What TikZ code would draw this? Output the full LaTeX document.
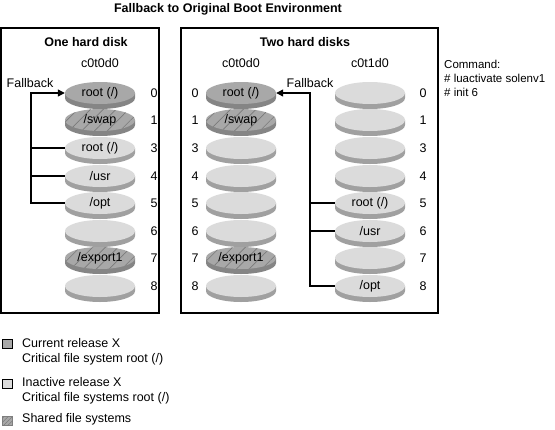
\documentclass[tikz,border=0pt]{standalone}
\usepackage{fontspec}
\setmainfont{Liberation Sans}
\usetikzlibrary{shapes.geometric,patterns.meta,arrows.meta}
\definecolor{darktop}{HTML}{A8A8A8}
\definecolor{darkrim}{HTML}{858585}
\definecolor{lighttop}{HTML}{DBDBDB}
\definecolor{lightrim}{HTML}{A0A0A0}
\definecolor{hatchcol}{HTML}{7A7A7A}
\tikzset{
  disk/.style={ellipse, minimum width=70pt, minimum height=22pt, inner sep=0pt, font=\fontsize{12.5}{14}\selectfont},
  cur/.style={disk, fill=darktop},
  ina/.style={disk, fill=lighttop},
  shr/.style={disk, fill=darktop, postaction={pattern={Lines[angle=45,distance=9pt,line width=0.6pt]}, pattern color=hatchcol}},
  lbl/.style={font=\fontsize{12.5}{14}\selectfont, inner sep=0pt},
  cmdlbl/.style={font=\fontsize{11.5}{13}\selectfont, inner sep=0pt, anchor=west},
  hdr/.style={font=\bfseries\fontsize{12.5}{14}\selectfont, inner sep=0pt},
  boxframe/.style={draw=black, line width=1.3pt},
  fb/.style={draw=black, line width=1.2pt},
  fbarrow/.style={fb, -{Triangle[length=7pt,width=7pt]}},
  legsq/.style={draw=black, line width=0.6pt, minimum width=10pt, minimum height=9pt, inner sep=0pt},
}
\newcommand\mydisk[6]{%
  \fill[#6] (#2-35,#3) -- (#2-35,#3+5) arc[start angle=180,end angle=0,x radius=35,y radius=11] -- (#2+35,#3) -- cycle;
  \node[#4] (#1) at (#2,#3) {#5};
}
\begin{document}
\begin{tikzpicture}[x=1pt,y=-1pt]
\useasboundingbox (0,0) rectangle (555,429);
% title
\node[hdr] (title) at (228,9) {Fallback to Original Boot Environment};
% boxes
\node[boxframe, minimum width=158pt, minimum height=285pt, inner sep=0pt] (boxL) at (80,170.5) {};
\node[boxframe, minimum width=257pt, minimum height=285pt, inner sep=0pt] (boxR) at (309.5,170.5) {};
\node[hdr] (hL) at (86,42) {One hard disk};
\node[hdr] (hR) at (305,42) {Two hard disks};
\node[lbl] (cL) at (100,63) {c0t0d0};
\node[lbl] (cR1) at (241,63) {c0t0d0};
\node[lbl] (cR2) at (370,63) {c0t1d0};
% left box disks
\mydisk{L0}{100}{93}{cur}{root (/)}{darkrim}
\mydisk{L1}{100}{120}{shr}{/swap}{darkrim}
\mydisk{L3}{100}{148}{ina}{root (/)}{lightrim}
\mydisk{L4}{100}{176}{ina}{/usr}{lightrim}
\mydisk{L5}{100}{203}{ina}{/opt}{lightrim}
\mydisk{L6}{100}{231}{ina}{}{lightrim}
\mydisk{L7}{100}{258}{shr}{/export1}{darkrim}
\mydisk{L8}{100}{286}{ina}{}{lightrim}
\foreach \n/\y in {0/93,1/120,3/148,4/176,5/203,6/231,7/258,8/286}{
  \node[lbl] (nL\n) at (154,\y) {\n};
}
% right box, disk c0t0d0
\mydisk{A0}{241}{93}{cur}{root (/)}{darkrim}
\mydisk{A1}{241}{120}{shr}{/swap}{darkrim}
\mydisk{A3}{241}{148}{ina}{}{lightrim}
\mydisk{A4}{241}{176}{ina}{}{lightrim}
\mydisk{A5}{241}{203}{ina}{}{lightrim}
\mydisk{A6}{241}{231}{ina}{}{lightrim}
\mydisk{A7}{241}{258}{shr}{/export1}{darkrim}
\mydisk{A8}{241}{286}{ina}{}{lightrim}
% right box, disk c0t1d0
\mydisk{B0}{370}{93}{ina}{}{lightrim}
\mydisk{B1}{370}{120}{ina}{}{lightrim}
\mydisk{B3}{370}{148}{ina}{}{lightrim}
\mydisk{B4}{370}{176}{ina}{}{lightrim}
\mydisk{B5}{370}{203}{ina}{root (/)}{lightrim}
\mydisk{B6}{370}{231}{ina}{/usr}{lightrim}
\mydisk{B7}{370}{258}{ina}{}{lightrim}
\mydisk{B8}{370}{286}{ina}{/opt}{lightrim}
\foreach \n/\y in {0/93,1/120,3/148,4/176,5/203,6/231,7/258,8/286}{
  \node[lbl] (nA\n) at (195,\y) {\n};
  \node[lbl] (nB\n) at (423,\y) {\n};
}
% fallback connectors, left
\node[lbl] (fbL) at (30,83) {Fallback};
\coordinate (lt) at (31,93);
\coordinate (lb) at (31,203);
\draw[fbarrow] (L5.west) -- (lb) -- (lt) -- (L0.west);
\draw[fb] (L3.west) -- (L3.west -| lt);
\draw[fb] (L4.west) -- (L4.west -| lt);
% fallback connectors, right
\node[lbl] (fbR) at (310,83) {Fallback};
\coordinate (rt) at (310,93);
\coordinate (rb) at (310,286);
\draw[fbarrow] (B8.west) -- (rb) -- (rt) -- (A0.east);
\draw[fb] (B5.west) -- (B5.west -| rt);
\draw[fb] (B6.west) -- (B6.west -| rt);
% command
\node[cmdlbl] (cmd1) at (444,64) {Command:};
\node[cmdlbl] (cmd2) at (444,78) {\# luactivate solenv1};
\node[cmdlbl] (cmd3) at (444,92) {\# init 6};
% legend
\node[legsq, fill=darktop] (sq1) at (7,344) {};
\node[legsq, fill=lighttop] (sq2) at (7,384) {};
\node[legsq, draw=gray, fill=darktop, postaction={pattern={Lines[angle=45,distance=3pt,line width=0.5pt]}, pattern color=hatchcol}] (sq3) at (7,421) {};
\node[lbl, anchor=west] (t1a) at (22,343) {Current release X};
\node[lbl, anchor=west] (t1b) at (22,359) {Critical file system root (/)};
\node[lbl, anchor=west] (t2a) at (22,382) {Inactive release X};
\node[lbl, anchor=west] (t2b) at (22,398) {Critical file systems root (/)};
\node[lbl, anchor=west] (t3) at (22,419) {Shared file systems};
\end{tikzpicture}
\end{document}
